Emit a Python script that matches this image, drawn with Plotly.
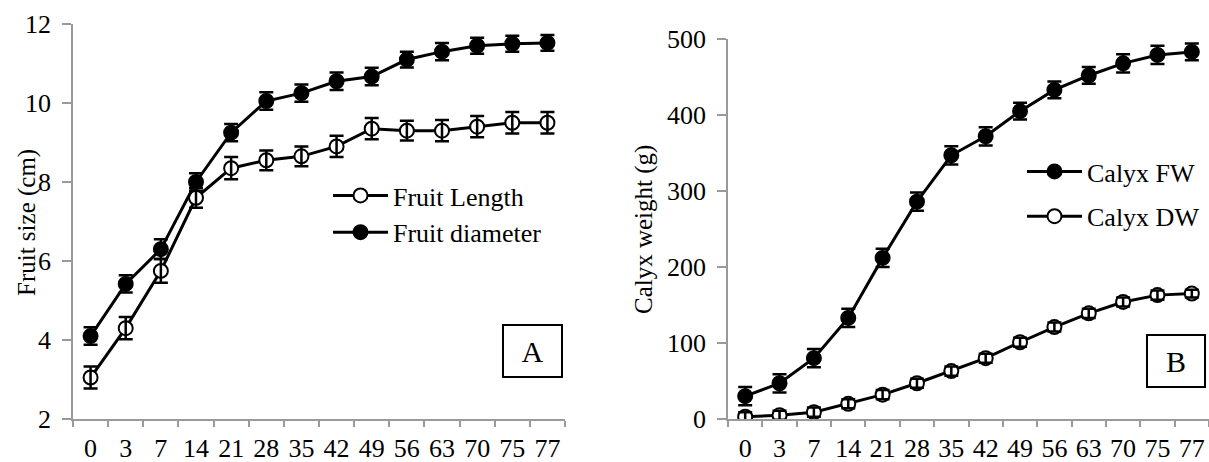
import plotly.graph_objects as go

days = ["0", "3", "7", "14", "21", "28", "35", "42", "49", "56", "63", "70", "75", "77"]

fruit_length = [3.05, 4.3, 5.75, 7.6, 8.35, 8.55, 8.65, 8.9, 9.35, 9.3, 9.3, 9.4, 9.5, 9.5]
fruit_length_err = [0.28, 0.28, 0.3, 0.25, 0.28, 0.25, 0.25, 0.27, 0.27, 0.25, 0.27, 0.27, 0.27, 0.27]
fruit_diameter = [4.1, 5.42, 6.3, 8.0, 9.25, 10.05, 10.25, 10.55, 10.67, 11.1, 11.3, 11.45, 11.5, 11.52]
fruit_diameter_err = [0.22, 0.22, 0.25, 0.22, 0.22, 0.22, 0.22, 0.22, 0.22, 0.2, 0.22, 0.2, 0.2, 0.2]

calyx_fw = [30, 47, 80, 133, 212, 286, 347, 372, 405, 433, 452, 468, 479, 483]
calyx_fw_err = [12, 12, 12, 12, 12, 12, 12, 12, 11, 11, 11, 12, 12, 11]
calyx_dw = [3, 5, 9, 20, 32, 47, 63, 80, 101, 121, 139, 154, 163, 165]
calyx_dw_err = [6, 6, 6, 6, 6, 6, 6, 6, 6, 6, 6, 6, 6, 5]

FONT = "Liberation Serif, Times New Roman, serif"
GRAY = "#9a9a9a"

fig = go.Figure()


def add_series(name, x, y, err, filled, xa, ya, legend):
    marker = dict(size=14, color="black" if filled else "white",
                  line=dict(color="black", width=2))
    fig.add_trace(go.Scatter(
        x=x, y=y, name=name, mode="lines+markers",
        line=dict(color="black", width=3), marker=marker,
        xaxis=xa, yaxis=ya, legend=legend, legendgroup=name))
    fig.add_trace(go.Scatter(
        x=x, y=y, mode="markers", showlegend=False,
        marker=dict(size=1, color="rgba(0,0,0,0)"),
        error_y=dict(type="data", array=err, color="black", thickness=2.5, width=7),
        xaxis=xa, yaxis=ya, hoverinfo="skip"))


add_series("Fruit Length", days, fruit_length, fruit_length_err, False, "x", "y", "legend")
add_series("Fruit diameter", days, fruit_diameter, fruit_diameter_err, True, "x", "y", "legend")
add_series("Calyx FW", days, calyx_fw, calyx_fw_err, True, "x2", "y2", "legend2")
add_series("Calyx DW", days, calyx_dw, calyx_dw_err, False, "x2", "y2", "legend2")

W, H = 1209, 462

xcommon = dict(type="category", showgrid=False, zeroline=False, showline=True,
               linecolor=GRAY, linewidth=1.5, ticks="outside", tickson="boundaries",
               ticklen=6, tickcolor=GRAY, tickwidth=1.5, automargin=False, tickangle=0,
               range=[-0.5, len(days) - 0.5],
               tickfont=dict(family=FONT, size=26, color="black"), ticklabelstandoff=5)
ycommon = dict(showgrid=False, zeroline=False, showline=True, linecolor=GRAY,
               linewidth=1.5, ticks="outside", ticklen=9, tickcolor=GRAY, tickwidth=1.5,
               automargin=False, tickfont=dict(family=FONT, size=26, color="black"))

fig.update_layout(
    width=W, height=H,
    margin=dict(l=0, r=0, t=0, b=0),
    paper_bgcolor="white", plot_bgcolor="white",
    showlegend=True,
    xaxis=dict(domain=[73 / W, 565 / W], anchor="y", **xcommon),
    yaxis=dict(domain=[43 / H, 438 / H], anchor="x", range=[2, 12], dtick=2,
               ticklabelstandoff=6, **ycommon),
    xaxis2=dict(domain=[728 / W, 1.0], anchor="y2", **xcommon),
    yaxis2=dict(domain=[43 / H, 423 / H], anchor="x2", range=[0, 500], dtick=100,
                ticklabelstandoff=6, **ycommon),
    legend=dict(x=328 / W, y=(H - 172) / H, xanchor="left", yanchor="top",
                bgcolor="rgba(0,0,0,0)", font=dict(family=FONT, size=26, color="black"),
                itemwidth=55, tracegroupgap=0),
    legend2=dict(x=1022 / W, y=(H - 148) / H, xanchor="left", yanchor="top",
                 bgcolor="rgba(0,0,0,0)", font=dict(family=FONT, size=26, color="black"),
                 itemwidth=55, tracegroupgap=8),
    annotations=[
        dict(text="Fruit size (cm)", textangle=-90, x=27 / W, y=(H - 223) / H,
             xref="paper", yref="paper", showarrow=False, xanchor="center", yanchor="middle",
             font=dict(family=FONT, size=25, color="black")),
        dict(text="Calyx weight (g)", textangle=-90, x=644 / W, y=(H - 230) / H,
             xref="paper", yref="paper", showarrow=False, xanchor="center", yanchor="middle",
             font=dict(family=FONT, size=25, color="black")),
        dict(text="A", x=532 / W, y=(H - 350.5) / H, xref="paper", yref="paper",
             xanchor="center", yanchor="middle",
             showarrow=False, width=57, height=50, borderpad=0, bordercolor="black",
             borderwidth=2, bgcolor="white", font=dict(family=FONT, size=30, color="black")),
        dict(text="B", x=1175.5 / W, y=(H - 360.5) / H, xref="paper", yref="paper",
             xanchor="center", yanchor="middle",
             showarrow=False, width=56, height=50, borderpad=0, bordercolor="black",
             borderwidth=2, bgcolor="white", font=dict(family=FONT, size=30, color="black")),
    ],
)

fig.write_html("out.html", config={"displayModeBar": False},
               post_script="document.body.style.margin='0';document.body.style.overflow='hidden';")
